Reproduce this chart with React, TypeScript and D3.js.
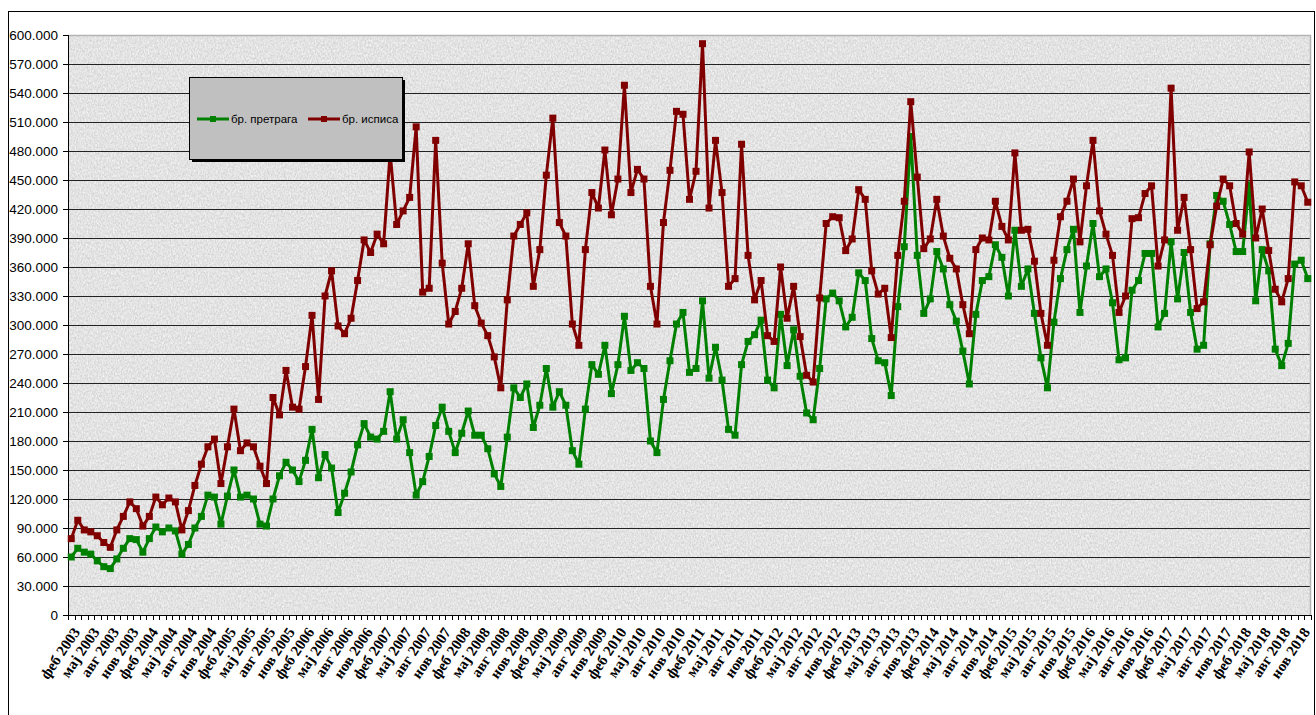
import * as d3 from 'd3';

// monthly values, Feb 2003 .. Dec 2018
const startYear = 2003;
const startMonth = 1; // 0 = јан
const monthNames = ['јан', 'феб', 'мар', 'апр', 'мај', 'јун', 'јул', 'авг', 'сеп', 'окт', 'нов', 'дец'];

// бр. претрага (thousands)
const searches = [
  60, 69, 65, 63, 56, 50, 48, 58, 69, 79, 78, 65, 79, 91, 86, 90, 87, 63, 73, 90,
  102, 124, 122, 94, 123, 150, 122, 124, 120, 94, 92, 120, 144, 158, 150, 138, 160, 192, 142, 166,
  152, 106, 126, 148, 176, 198, 184, 182, 190, 231, 182, 202, 168, 124, 138, 164, 196, 215, 190, 168,
  188, 211, 186, 186, 172, 146, 133, 184, 235, 225, 239, 194, 217, 255, 215, 231, 217, 170, 156, 213,
  259, 249, 279, 229, 259, 309, 253, 261, 255, 180, 168, 223, 263, 301, 313, 251, 255, 325, 245, 277,
  243, 192, 186, 259, 283, 290, 305, 243, 235, 311, 258, 295, 247, 209, 202, 255, 327, 333, 325, 298,
  308, 354, 346, 286, 263, 261, 227, 319, 381, 495, 372, 312, 327, 376, 358, 321, 304, 273, 239, 311,
  346, 350, 383, 370, 330, 398, 340, 358, 312, 266, 235, 303, 348, 378, 399, 313, 361, 405, 350, 358,
  323, 264, 266, 336, 346, 374, 374, 298, 312, 386, 327, 375, 313, 275, 279, 384, 434, 428, 404, 376,
  376, 445, 325, 378, 356, 275, 258, 281, 363, 367, 348,
];

// бр. исписа (thousands)
const printouts = [
  79, 98, 88, 86, 82, 75, 70, 88, 102, 117, 110, 92, 102, 122, 114, 121, 117, 88, 108, 134,
  156, 174, 182, 136, 174, 213, 170, 178, 174, 154, 136, 225, 207, 253, 215, 213, 257, 310, 223, 330,
  356, 299, 291, 307, 346, 388, 375, 394, 384, 478, 404, 418, 432, 505, 334, 338, 491, 364, 301, 314,
  338, 384, 320, 302, 289, 267, 235, 326, 392, 404, 416, 340, 378, 455, 514, 406, 392, 301, 279, 378,
  437, 421, 481, 414, 451, 548, 437, 461, 451, 340, 301, 406, 460, 521, 518, 430, 459, 591, 421, 491,
  437, 340, 348, 487, 372, 326, 346, 289, 283, 360, 307, 340, 288, 248, 241, 328, 405, 412, 411, 377,
  389, 440, 430, 356, 332, 338, 287, 372, 428, 531, 453, 379, 389, 430, 392, 369, 358, 321, 291, 378,
  390, 388, 428, 402, 388, 478, 398, 399, 366, 312, 279, 367, 412, 428, 451, 386, 444, 491, 418, 394,
  372, 313, 330, 410, 411, 436, 444, 361, 388, 545, 398, 432, 378, 317, 324, 383, 423, 451, 444, 405,
  394, 479, 390, 420, 377, 337, 324, 348, 448, 444, 427,
];

const yTicks = d3.range(0, 600001, 30000);

const seriesList = [
  { name: 'бр. претрага', values: searches, color: '#008000' },
  { name: 'бр. исписа', values: printouts, color: '#800000' },
];

const categories = searches.map((_, i) => {
  const m = startMonth + i;
  return `${monthNames[m % 12]} ${startYear + Math.floor(m / 12)}`;
});

const W = 1316;
const H = 715;
const plot = { left: 68, right: 1311, top: 35, bottom: 615 };

const fmt = (v: number) => d3.format(',')(v).replace(/,/g, '.');

export default function App() {
  const x = d3
    .scaleBand<number>()
    .domain(d3.range(categories.length))
    .range([plot.left, plot.right]);
  const cx = (i: number) => (x(i) as number) + x.bandwidth() / 2;

  const y = d3.scaleLinear().domain([0, 600000]).range([plot.bottom, plot.top]);

  const line = d3
    .line<number>()
    .x((_, i) => cx(i))
    .y((d) => y(d * 1000));

  const boundaries = d3.range(categories.length + 1).map((i) =>
    i < categories.length ? (x(i) as number) : plot.right
  );

  return (
    <svg
      width={W}
      height={H}
      style={{ position: 'absolute', left: 0, top: 0, background: '#fff' }}
    >
      <defs>
        <filter id="marble" x="0" y="0" width="100%" height="100%">
          <feTurbulence type="fractalNoise" baseFrequency="0.7 0.45" numOctaves="3" seed="7" />
          <feColorMatrix
            type="matrix"
            values="0 0 0 0 0.45  0 0 0 0 0.45  0 0 0 0 0.45  1.6 0 0 0 -0.62"
          />
        </filter>
        <filter id="marbleLight" x="0" y="0" width="100%" height="100%">
          <feTurbulence type="fractalNoise" baseFrequency="0.6 0.4" numOctaves="2" seed="19" />
          <feColorMatrix
            type="matrix"
            values="0 0 0 0 1  0 0 0 0 1  0 0 0 0 1  1.6 0 0 0 -0.6"
          />
        </filter>
      </defs>

      {/* outer frame */}
      <rect x={8.5} y={11.5} width={1306} height={710} fill="#fff" stroke="#000" strokeWidth={1} />

      {/* plot background */}
      <rect
        x={plot.left}
        y={plot.top}
        width={plot.right - plot.left}
        height={plot.bottom - plot.top}
        fill="#e4e4e4"
      />
      <rect
        x={plot.left}
        y={plot.top}
        width={plot.right - plot.left}
        height={plot.bottom - plot.top}
        filter="url(#marbleLight)"
        opacity={0.9}
      />
      <rect
        x={plot.left}
        y={plot.top}
        width={plot.right - plot.left}
        height={plot.bottom - plot.top}
        filter="url(#marble)"
        opacity={0.6}
      />

      {/* gridlines */}
      {yTicks.slice(1, -1).map((t) => (
        <line
          key={t}
          x1={plot.left}
          x2={plot.right}
          y1={Math.round(y(t)) + 0.5}
          y2={Math.round(y(t)) + 0.5}
          stroke="#222"
          strokeWidth={1}
        />
      ))}
      {/* plot border top/right */}
      <path
        d={`M${plot.left},${plot.top + 0.5}H${plot.right - 0.5}V${plot.bottom}`}
        fill="none"
        stroke="#b4b4b4"
        strokeWidth={1.5}
      />

      {/* y axis */}
      <line x1={plot.left + 0.5} x2={plot.left + 0.5} y1={plot.top} y2={plot.bottom} stroke="#000" />
      {yTicks.map((t) => (
        <g key={t} transform={`translate(0,${Math.round(y(t)) + 0.5})`}>
          <line x1={plot.left - 5} x2={plot.left} stroke="#000" />
          <text
            x={58}
            dy="0.35em"
            textAnchor="end"
            fontFamily="'Liberation Sans', Arial, sans-serif"
            fontSize={13.5}
            fill="#000"
          >
            {fmt(t)}
          </text>
        </g>
      ))}

      {/* x axis */}
      <line x1={plot.left} x2={plot.right} y1={plot.bottom + 0.5} y2={plot.bottom + 0.5} stroke="#000" />
      {boundaries.map((bx, i) => (
        <line
          key={i}
          x1={Math.round(bx) + 0.5}
          x2={Math.round(bx) + 0.5}
          y1={plot.bottom}
          y2={plot.bottom + 5}
          stroke="#000"
        />
      ))}
      {categories.map((c, i) =>
        i % 3 === 0 ? (
          <text
            key={c}
            transform={`translate(${cx(i) + 5},${plot.bottom + 14}) rotate(-56)`}
            dy="0.35em"
            textAnchor="end"
            fontFamily="'Liberation Serif', 'Times New Roman', serif"
            fontWeight="bold"
            fontSize={15}
            fill="#000"
          >
            {c}
          </text>
        ) : null
      )}

      {/* series */}
      {seriesList.map((s) => (
        <g key={s.name}>
          <path d={line(s.values) ?? ''} fill="none" stroke={s.color} strokeWidth={3} strokeLinejoin="round" />
          {s.values.map((v, i) => (
            <rect key={i} x={cx(i) - 3.5} y={y(v * 1000) - 3.5} width={7} height={7} fill={s.color} />
          ))}
        </g>
      ))}

      {/* legend */}
      <g transform="translate(189,77)">
        <rect x={3} y={3} width={213} height={82} fill="#000" />
        <rect x={0.5} y={0.5} width={213} height={82} fill="#c0c0c0" stroke="#000" />
        {seriesList.map((s, k) => {
          const lx = k === 0 ? 8 : 119;
          return (
            <g key={s.name} transform={`translate(${lx},42)`}>
              <line x1={0} x2={32} stroke={s.color} strokeWidth={3} />
              <rect x={13} y={-3} width={6} height={6} fill={s.color} />
              <text
                x={34}
                dy="0.35em"
                fontFamily="'Liberation Sans', Arial, sans-serif"
                fontSize={11.5}
                fill="#000"
              >
                {s.name}
              </text>
            </g>
          );
        })}
      </g>
    </svg>
  );
}
